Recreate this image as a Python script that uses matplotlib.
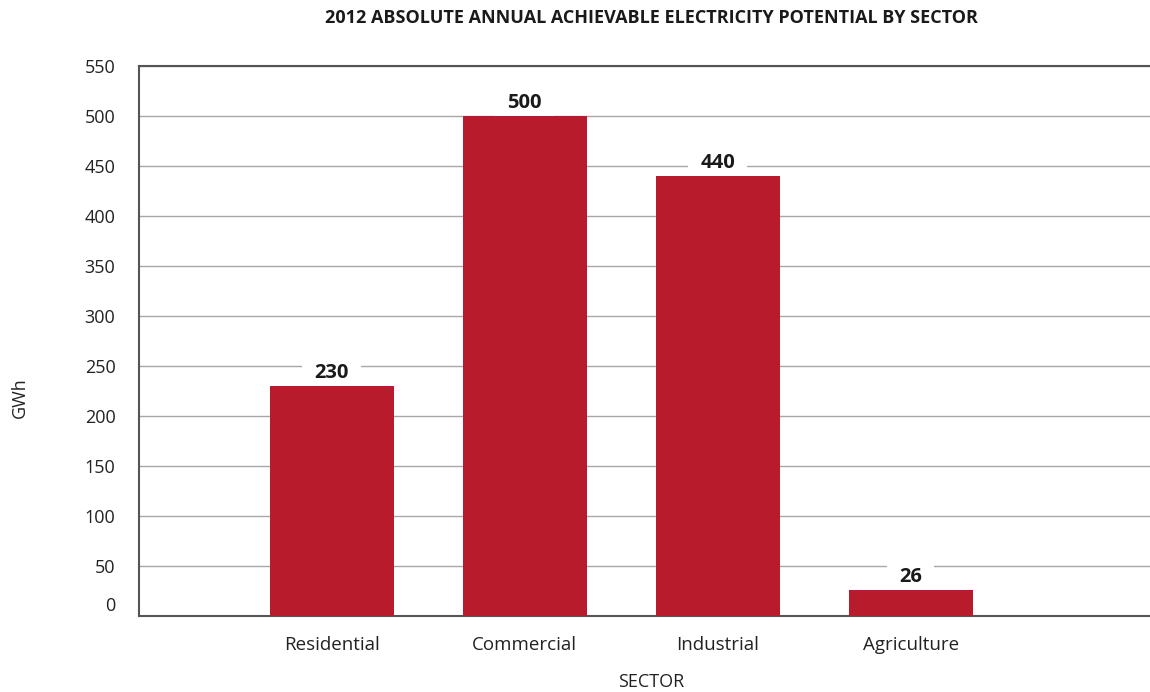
import matplotlib
matplotlib.use("Agg")
import matplotlib.pyplot as plt
import matplotlib.transforms as mtransforms

categories = ["Residential", "Commercial", "Industrial", "Agriculture"]
values = [230, 500, 440, 26]
value_labels = ["230", "500", "440", "26"]
yticks = [0, 50, 100, 150, 200, 250, 300, 350, 400, 450, 500, 550]

plt.rcParams['font.family'] = ['Open Sans', 'DejaVu Sans']

fig = plt.figure(figsize=(11.5, 6.92), dpi=100)
ax = fig.add_axes([139/1150, 1 - 616/692, 1 - 139/1150, (616 - 66)/692])

bar_color = "#B81C2C"
x = list(range(len(categories)))
ax.bar(x, values, width=0.642, color=bar_color, zorder=3)

ax.set_xlim(-0.997, 4.238)
ax.set_ylim(0, 550)
ax.set_yticks(yticks)
ax.set_yticklabels([str(t) for t in yticks], fontsize=13, color="#222222")
ax.set_xticks(x)
ax.set_xticklabels(categories, fontsize=13.5, color="#222222")
ax.tick_params(axis='y', length=0, pad=17)
ax.tick_params(axis='x', length=0, pad=14.5)

ax.grid(axis='y', color="#a8a8a8", linewidth=1.0, zorder=0)
ax.set_axisbelow(True)
for s in ["left", "bottom", "top"]:
    ax.spines[s].set_color("#555555")
    ax.spines[s].set_linewidth(1.5)
ax.spines["right"].set_visible(False)

# shift the "0" label upward as in the reference
lbl0 = ax.get_yticklabels()[0]
off = mtransforms.ScaledTranslation(0, 12/100, fig.dpi_scale_trans)
lbl0.set_transform(lbl0.get_transform() + off)

for xi, v, t in zip(x, values, value_labels):
    ax.annotate(t, (xi, v), xytext=(0, 9.5), textcoords="offset points",
                ha="center", va="center", fontsize=14.5, fontweight="bold",
                color="#1a1a1a", zorder=2,
                bbox=dict(boxstyle="square,pad=0.6", facecolor="white", edgecolor="none"))

fig.text(651/1150, 1 - 18/692, "2012 ABSOLUTE ANNUAL ACHIEVABLE ELECTRICITY POTENTIAL BY SECTOR",
         ha="center", va="center", fontsize=13, fontweight="bold", color="#1a1a1a")
fig.text(651/1150, 1 - 682/692, "SECTOR", ha="center", va="center", fontsize=13, color="#222222")
fig.text(20/1150, 1 - 398/692, "GWh", ha="center", va="center", rotation=90, fontsize=13, color="#222222")

fig.savefig("out.png", dpi=100, facecolor="white")
